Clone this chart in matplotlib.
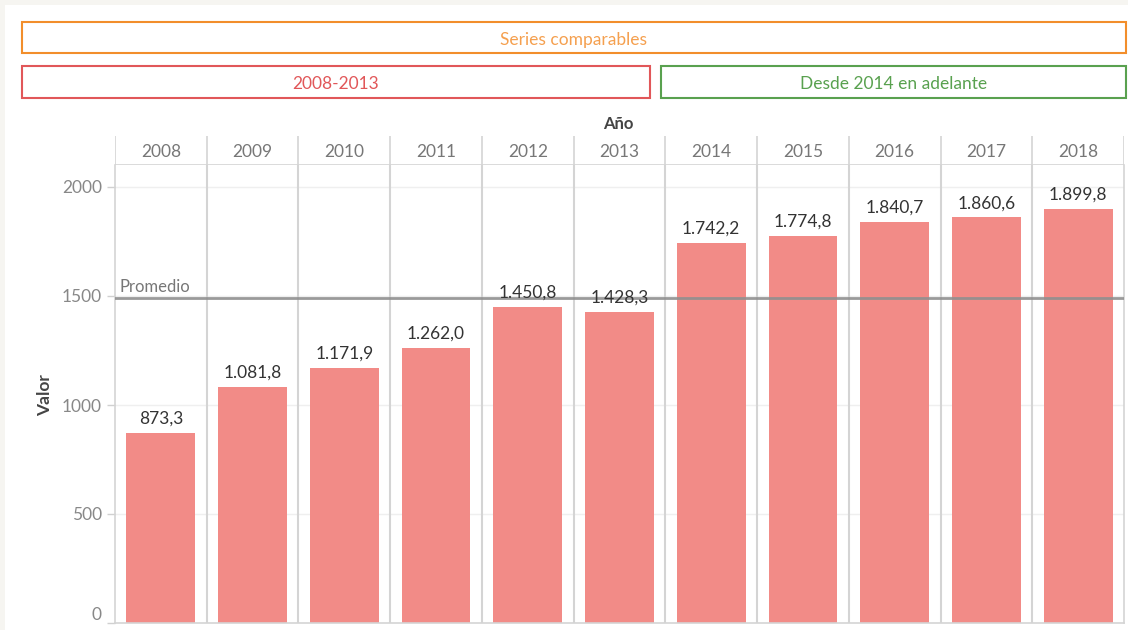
import numpy as np
import matplotlib.pyplot as plt
from matplotlib.patches import Rectangle

plt.rcParams['font.family'] = ['Lato', 'DejaVu Sans']

years = ['2008', '2009', '2010', '2011', '2012', '2013',
         '2014', '2015', '2016', '2017', '2018']
valores = [873.3, 1081.8, 1171.9, 1262.0, 1450.8, 1428.3,
           1742.2, 1774.8, 1840.7, 1860.6, 1899.8]
yticks = [0, 500, 1000, 1500, 2000]

W, H = 1128, 630
fig = plt.figure(figsize=(W/100, H/100), dpi=100)
fig.patch.set_facecolor('white')

def fx(px):
    return px / W

def fy(py):
    return 1 - py / H

# off-white border strips (top and left)
fig.patches.append(Rectangle((0, fy(5)), 1, 1, transform=fig.transFigure,
                             facecolor='#f6f5f1', edgecolor='none', zorder=-5))
fig.patches.append(Rectangle((0, 0), fx(5), 1, transform=fig.transFigure,
                             facecolor='#f6f5f1', edgecolor='none', zorder=-5))

def box(x0, y0, x1, y1, color, text, tcolor):
    fig.patches.append(Rectangle((fx(x0), fy(y1)), fx(x1) - fx(x0), fy(y0) - fy(y1),
                                 transform=fig.transFigure, facecolor='white',
                                 edgecolor=color, lw=1.5, zorder=1))
    fig.text(fx((x0 + x1) / 2), fy((y0 + y1) / 2 + 2), text, color=tcolor,
             ha='center', va='center', fontsize=12.5)

box(22, 22, 1126, 53, '#f28e2b', 'Series comparables', '#f5a04f')
box(22, 66, 650, 98, '#e15759', '2008-2013', '#e15759')
box(661, 66, 1126, 98, '#59a14f', 'Desde 2014 en adelante', '#59a14f')

L, R, T, B = 115, 1124, 165, 623
ax = fig.add_axes([fx(L), fy(B), fx(R) - fx(L), fy(T) - fy(B)])
n = len(years)
x = np.arange(n) + 0.5
ax.bar(x, valores, width=0.75, color='#f28b87', zorder=2)
ax.set_xlim(0, n)
ax.set_ylim(0, (B - T) / 0.218)

for yv in yticks[1:]:
    ax.axhline(yv, color='#efefef', lw=1, zorder=1)
for i in range(1, n):
    ax.axvline(i, color='#d4d4d4', lw=1.5, zorder=1)

prom = np.mean(valores)
ax.axhline(prom, color='#8f8f8f', lw=2, alpha=0.9, zorder=3)
ax.text(0.05, prom + 15, 'Promedio', color='#777777', fontsize=12,
        ha='left', va='bottom', zorder=4)

for xi, v in zip(x, valores):
    lbl = f'{v:,.1f}'.replace(',', 'X').replace('.', ',').replace('X', '.')
    ax.text(xi, v + 28, lbl, ha='center', va='bottom', fontsize=12.5,
            color='#333333', zorder=4)

ax.set_xticks([])
ax.set_yticks(yticks)
ax.set_yticklabels([str(t) for t in yticks])
ax.tick_params(axis='y', colors='#d0d0d0', labelcolor='#888888',
               labelsize=12.5, length=6, width=1)
ax.get_yticklabels()[0].set_va('bottom')
for s in ['left', 'bottom', 'right']:
    ax.spines[s].set_color('#d4d4d4')
    ax.spines[s].set_linewidth(1.2)
ax.spines['top'].set_visible(False)
ax.set_ylabel('Valor', fontsize=12.5, fontweight='bold', color='#444444')
ax.yaxis.set_label_coords((53 - L) / (R - L), (B - 395) / (B - T))

# header row
hx = fig.add_axes([fx(L), fy(T), fx(R) - fx(L), fy(136) - fy(T)])
hx.set_xlim(0, n)
hx.set_ylim(0, 1)
for i in range(0, n + 1):
    hx.axvline(i, color='#d4d4d4', lw=1.2)
for xi, yr in zip(x, years):
    hx.text(xi, 0.45, yr, ha='center', va='center', fontsize=12.5, color='#777777')
hx.axis('off')
hx.axhline(0, color='#d4d4d4', lw=1.2)
fig.text(fx(618), fy(124), 'Año', ha='center', va='center', fontsize=12,
         fontweight='bold', color='#444444')

fig.savefig('out.png', dpi=100, facecolor=fig.get_facecolor())
